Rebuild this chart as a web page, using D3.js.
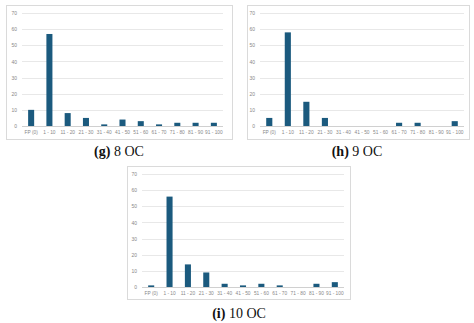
<!DOCTYPE html>
<html>
<head>
<meta charset="utf-8">
<script src="https://cdn.jsdelivr.net/npm/d3@7"></script>
<style>
  html, body { margin: 0; padding: 0; background: #fff; }
  svg { display: block; }
</style>
</head>
<body>
<svg id="chart" width="474" height="323"></svg>
<script>
// Rank-range buckets shared by all three histograms
const categories = ["FP (0)", "1 - 10", "11 - 20", "21 - 30", "31 - 40", "41 - 50",
                    "51 - 60", "61 - 70", "71 - 80", "81 - 90", "91 - 100"];
const yTicks = [0, 10, 20, 30, 40, 50, 60, 70];

// Counts per bucket for each OC setting
const values8 = [10, 57, 8, 5, 1, 4, 3, 1, 2, 2, 2];
const values9 = [5, 58, 15, 5, 0, 0, 0, 2, 2, 0, 3];
const values10 = [1, 56, 14, 9, 2, 1, 2, 1, 0, 2, 3];

const captionTags = ["(g)", "(h)", "(i)"];
const captionTexts = ["8 OC", "9 OC", "10 OC"];

const panels = [
  { values: values8,  box: [6, 5, 232, 139],    plot: [22, 223, 13, 126],  cap: [119, 156] },
  { values: values9,  box: [247, 5, 469, 139],  plot: [260, 464, 13, 126], cap: [357, 156] },
  { values: values10, box: [127, 166, 350, 299], plot: [142, 344, 174, 287], cap: [239, 318] }
];

const svg = d3.select("#chart");
const barColor = "#1b5a7e";
const labelFont = "Liberation Sans, Arial, sans-serif";

panels.forEach((p, i) => {
  const g = svg.append("g");
  const [bx0, by0, bx1, by1] = p.box;
  const [px0, px1, py0, py1] = p.plot;

  // chart frame
  g.append("rect")
    .attr("x", bx0 + 0.5).attr("y", by0 + 0.5)
    .attr("width", bx1 - bx0).attr("height", by1 - by0)
    .attr("fill", "#fff").attr("stroke", "#dadada").attr("stroke-width", 1);

  const x = d3.scaleBand().domain(categories).range([px0, px1])
    .paddingInner(0.67).paddingOuter(0.335);
  const y = d3.scaleLinear().domain([0, 70]).range([py1, py0]);

  // horizontal gridlines
  g.append("g").selectAll("line").data(yTicks).join("line")
    .attr("x1", px0).attr("x2", px1)
    .attr("y1", d => Math.round(y(d)) + 0.5).attr("y2", d => Math.round(y(d)) + 0.5)
    .attr("stroke", d => d === 0 ? "#d0d0d0" : "#e8e8e8").attr("stroke-width", 1);

  // y-axis labels
  const yAxis = d3.axisLeft(y).tickValues(yTicks).tickSize(0).tickPadding(5);
  const ya = g.append("g").attr("transform", `translate(${px0},0)`).call(yAxis);
  ya.select(".domain").remove();
  ya.selectAll("text").attr("font-family", labelFont)
    .attr("font-size", 5).attr("fill", "#888");

  // bars
  g.append("g").selectAll("rect").data(p.values).join("rect")
    .attr("x", (d, k) => x(categories[k]))
    .attr("width", x.bandwidth())
    .attr("y", d => y(d))
    .attr("height", d => y(0) - y(d))
    .attr("fill", barColor);

  // x-axis labels
  const xAxis = d3.axisBottom(x).tickSize(0).tickPadding(5);
  const xa = g.append("g").attr("transform", `translate(0,${py1})`).call(xAxis);
  xa.select(".domain").remove();
  xa.selectAll("text").attr("font-family", labelFont)
    .attr("font-size", 4.8).attr("fill", "#888");

  // caption below the panel
  const cap = svg.append("text")
    .attr("x", p.cap[0]).attr("y", p.cap[1])
    .attr("text-anchor", "middle")
    .attr("font-family", "Liberation Serif, Times New Roman, serif")
    .attr("font-size", 14).attr("fill", "#111");
  cap.append("tspan").attr("font-weight", "bold").text(captionTags[i]);
  cap.append("tspan").text(" " + captionTexts[i]);
});
</script>
</body>
</html>
